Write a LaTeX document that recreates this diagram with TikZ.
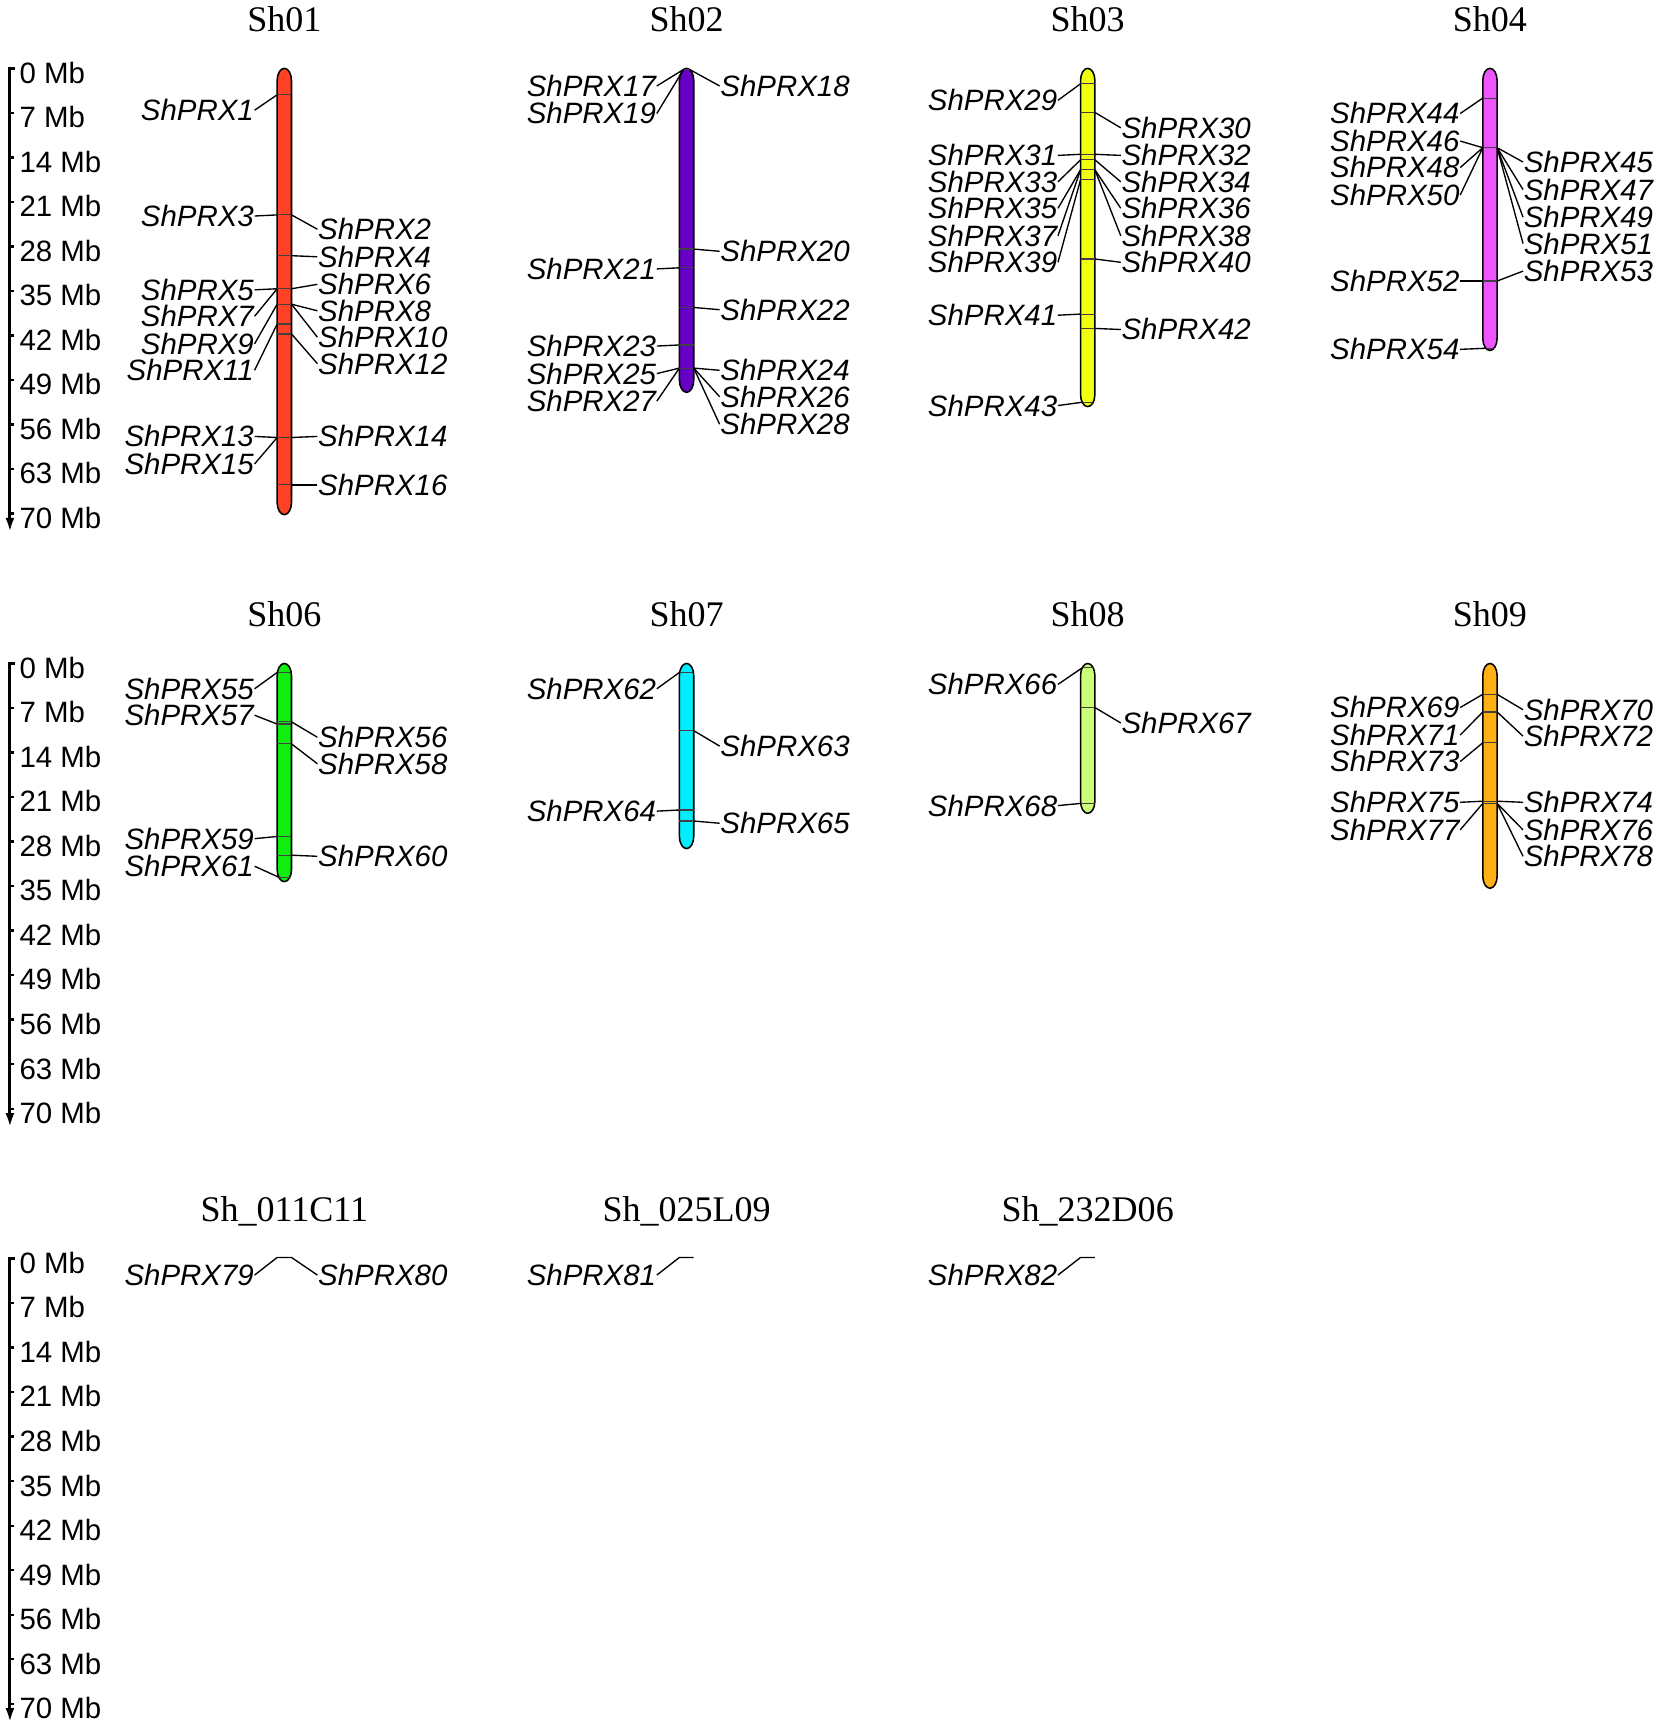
\documentclass[tikz,border=0pt]{standalone}
\usepackage{fontspec}
\setmainfont{Liberation Serif}
\setsansfont{Liberation Sans}
\usetikzlibrary{arrows.meta}

\definecolor{c01}{HTML}{FF4126}
\definecolor{c02}{HTML}{6600C4}
\definecolor{c03}{HTML}{EEFF10}
\definecolor{c04}{HTML}{EE55FF}
\definecolor{c06}{HTML}{10EE10}
\definecolor{c07}{HTML}{00EEFF}
\definecolor{c08}{HTML}{CCFF77}
\definecolor{c09}{HTML}{FFB014}

\tikzset{
  chrom/.style={draw=black, line width=0.4pt},
  genemark/.style={draw=black!75, line width=0.3pt},
  leader/.style={line width=0.35pt},
  genel/.style={font=\sffamily\itshape\fontsize{7.6pt}{7.6pt}\selectfont, inner sep=0pt, text height=5.4pt, text depth=0pt},
  mblabel/.style={font=\sffamily\fontsize{7.6pt}{7.6pt}\selectfont, inner sep=0pt, anchor=base west},
  chrtitle/.style={font=\fontsize{9.3pt}{9.3pt}\selectfont, inner sep=0pt, anchor=base},
  ruler/.style={line width=0.8pt},
  rtick/.style={line width=0.6pt},
}

\begin{document}
\begin{tikzpicture}[x=0.1mm, y=-0.1mm]
\useasboundingbox (0,0) rectangle (1500,1568);

% scale bars
\foreach \r/\T in {1/62, 2/602, 3/1142} {
  \coordinate (r\r a) at (13.5,\T);
  \coordinate (r\r b) at (9,\T);
  \coordinate (r\r c) at (9,\T+421);
  \draw[ruler, -{Latex[length=1.3mm,width=0.8mm]}] (r\r a) -- (r\r b) -- (r\r c);
  \foreach \k in {1,...,10}
    \draw[rtick] (9,\T+\k*40.4) -- ++(4,0);
  \foreach \k in {0,...,10} {
    \pgfmathtruncatemacro\mb{\k*7}
    \node[mblabel] (mb\r-\k) at (17,\T+\k*40.4+13.5) {\mb{} Mb};
  }
}

% Sh01
\def\chrx{258}\def\ctop{62}\def\cbot{467}
\node[chrtitle] (t01) at (\chrx,28.5) {Sh01};
\filldraw[chrom, fill=c01] (\chrx-6.5,\ctop+11) -- (\chrx-6.5,\cbot-11) arc[start angle=180,end angle=360,x radius=0.65mm,y radius=1.1mm] -- (\chrx+6.5,\ctop+11) arc[start angle=0,end angle=180,x radius=0.65mm,y radius=1.1mm] -- cycle;
\foreach \n/\t/\l in {1/86/100, 3/195/196, 5/262/263, 7/262/287, 9/276/312, 11/294/336, 13/397/396, 15/397/421} {
  \pgfmathsetmacro\dd{max(0,max(\ctop+11-\t,\t-\cbot+11))}
  \pgfmathsetmacro\hw{6.5*sqrt(max(0,1-(\dd/11)^2))}
  \coordinate (m\n) at (\chrx-\hw,\t);
  \draw[genemark] (m\n) -- ++(2*\hw,0);
  \node[genel, anchor=east] (g\n) at (\chrx-27,\l) {ShPRX\n};
  \draw[leader] (g\n.east) -- (m\n);
}
\foreach \n/\t/\l in {2/195/208, 4/232/233, 6/262/258, 8/276/282, 10/276/306, 12/303/330, 14/397/396, 16/440/440} {
  \pgfmathsetmacro\dd{max(0,max(\ctop+11-\t,\t-\cbot+11))}
  \pgfmathsetmacro\hw{6.5*sqrt(max(0,1-(\dd/11)^2))}
  \coordinate (m\n) at (\chrx+\hw,\t);
  \draw[genemark] (m\n) -- ++(-2*\hw,0);
  \node[genel, anchor=west] (g\n) at (\chrx+30,\l) {ShPRX\n};
  \draw[leader] (m\n) -- (g\n.west);
}

% Sh02
\def\chrx{623}\def\ctop{62}\def\cbot{356}
\node[chrtitle] (t02) at (\chrx,28.5) {Sh02};
\filldraw[chrom, fill=c02] (\chrx-6.5,\ctop+11) -- (\chrx-6.5,\cbot-11) arc[start angle=180,end angle=360,x radius=0.65mm,y radius=1.1mm] -- (\chrx+6.5,\ctop+11) arc[start angle=0,end angle=180,x radius=0.65mm,y radius=1.1mm] -- cycle;
\foreach \n/\t/\l in {17/63/78, 19/63/103, 21/243/244, 23/313/314, 25/334/339, 27/334/364} {
  \pgfmathsetmacro\dd{max(0,max(\ctop+11-\t,\t-\cbot+11))}
  \pgfmathsetmacro\hw{6.5*sqrt(max(0,1-(\dd/11)^2))}
  \coordinate (m\n) at (\chrx-\hw,\t);
  \draw[genemark] (m\n) -- ++(2*\hw,0);
  \node[genel, anchor=east] (g\n) at (\chrx-27,\l) {ShPRX\n};
  \draw[leader] (g\n.east) -- (m\n);
}
\foreach \n/\t/\l in {18/63/78, 20/226/228, 22/279/281, 24/334/336, 26/334/360, 28/334/385} {
  \pgfmathsetmacro\dd{max(0,max(\ctop+11-\t,\t-\cbot+11))}
  \pgfmathsetmacro\hw{6.5*sqrt(max(0,1-(\dd/11)^2))}
  \coordinate (m\n) at (\chrx+\hw,\t);
  \draw[genemark] (m\n) -- ++(-2*\hw,0);
  \node[genel, anchor=west] (g\n) at (\chrx+30,\l) {ShPRX\n};
  \draw[leader] (m\n) -- (g\n.west);
}

% Sh03
\def\chrx{987}\def\ctop{62}\def\cbot{369}
\node[chrtitle] (t03) at (\chrx,28.5) {Sh03};
\filldraw[chrom, fill=c03] (\chrx-6.5,\ctop+11) -- (\chrx-6.5,\cbot-11) arc[start angle=180,end angle=360,x radius=0.65mm,y radius=1.1mm] -- (\chrx+6.5,\ctop+11) arc[start angle=0,end angle=180,x radius=0.65mm,y radius=1.1mm] -- cycle;
\foreach \n/\t/\l in {29/76/91, 31/140/141, 33/145/165, 35/154/189, 37/154/214, 39/163/238, 41/285/286, 43/365/368} {
  \pgfmathsetmacro\dd{max(0,max(\ctop+11-\t,\t-\cbot+11))}
  \pgfmathsetmacro\hw{6.5*sqrt(max(0,1-(\dd/11)^2))}
  \coordinate (m\n) at (\chrx-\hw,\t);
  \draw[genemark] (m\n) -- ++(2*\hw,0);
  \node[genel, anchor=east] (g\n) at (\chrx-27,\l) {ShPRX\n};
  \draw[leader] (g\n.east) -- (m\n);
}
\foreach \n/\t/\l in {30/102/116, 32/140/141, 34/145/165, 36/154/189, 38/154/214, 40/235/238, 42/298/299} {
  \pgfmathsetmacro\dd{max(0,max(\ctop+11-\t,\t-\cbot+11))}
  \pgfmathsetmacro\hw{6.5*sqrt(max(0,1-(\dd/11)^2))}
  \coordinate (m\n) at (\chrx+\hw,\t);
  \draw[genemark] (m\n) -- ++(-2*\hw,0);
  \node[genel, anchor=west] (g\n) at (\chrx+30,\l) {ShPRX\n};
  \draw[leader] (m\n) -- (g\n.west);
}

% Sh04
\def\chrx{1352}\def\ctop{62}\def\cbot{318}
\node[chrtitle] (t04) at (\chrx,28.5) {Sh04};
\filldraw[chrom, fill=c04] (\chrx-6.5,\ctop+11) -- (\chrx-6.5,\cbot-11) arc[start angle=180,end angle=360,x radius=0.65mm,y radius=1.1mm] -- (\chrx+6.5,\ctop+11) arc[start angle=0,end angle=180,x radius=0.65mm,y radius=1.1mm] -- cycle;
\foreach \n/\t/\l in {44/89/103, 46/134/128, 48/134/152, 50/134/177, 52/255/255, 54/316/317} {
  \pgfmathsetmacro\dd{max(0,max(\ctop+11-\t,\t-\cbot+11))}
  \pgfmathsetmacro\hw{6.5*sqrt(max(0,1-(\dd/11)^2))}
  \coordinate (m\n) at (\chrx-\hw,\t);
  \draw[genemark] (m\n) -- ++(2*\hw,0);
  \node[genel, anchor=east] (g\n) at (\chrx-27,\l) {ShPRX\n};
  \draw[leader] (g\n.east) -- (m\n);
}
\foreach \n/\t/\l in {45/134/147, 47/134/172, 49/134/197, 51/134/221, 53/255/246} {
  \pgfmathsetmacro\dd{max(0,max(\ctop+11-\t,\t-\cbot+11))}
  \pgfmathsetmacro\hw{6.5*sqrt(max(0,1-(\dd/11)^2))}
  \coordinate (m\n) at (\chrx+\hw,\t);
  \draw[genemark] (m\n) -- ++(-2*\hw,0);
  \node[genel, anchor=west] (g\n) at (\chrx+30,\l) {ShPRX\n};
  \draw[leader] (m\n) -- (g\n.west);
}

% Sh06
\def\chrx{258}\def\ctop{602}\def\cbot{800}
\node[chrtitle] (t06) at (\chrx,568.5) {Sh06};
\filldraw[chrom, fill=c06] (\chrx-6.5,\ctop+11) -- (\chrx-6.5,\cbot-11) arc[start angle=180,end angle=360,x radius=0.65mm,y radius=1.1mm] -- (\chrx+6.5,\ctop+11) arc[start angle=0,end angle=180,x radius=0.65mm,y radius=1.1mm] -- cycle;
\foreach \n/\t/\l in {55/610/625, 57/657/649, 59/759/761, 61/796/786} {
  \pgfmathsetmacro\dd{max(0,max(\ctop+11-\t,\t-\cbot+11))}
  \pgfmathsetmacro\hw{6.5*sqrt(max(0,1-(\dd/11)^2))}
  \coordinate (m\n) at (\chrx-\hw,\t);
  \draw[genemark] (m\n) -- ++(2*\hw,0);
  \node[genel, anchor=east] (g\n) at (\chrx-27,\l) {ShPRX\n};
  \draw[leader] (g\n.east) -- (m\n);
}
\foreach \n/\t/\l in {56/655/669, 58/675/693, 60/776/777} {
  \pgfmathsetmacro\dd{max(0,max(\ctop+11-\t,\t-\cbot+11))}
  \pgfmathsetmacro\hw{6.5*sqrt(max(0,1-(\dd/11)^2))}
  \coordinate (m\n) at (\chrx+\hw,\t);
  \draw[genemark] (m\n) -- ++(-2*\hw,0);
  \node[genel, anchor=west] (g\n) at (\chrx+30,\l) {ShPRX\n};
  \draw[leader] (m\n) -- (g\n.west);
}

% Sh07
\def\chrx{623}\def\ctop{602}\def\cbot{770}
\node[chrtitle] (t07) at (\chrx,568.5) {Sh07};
\filldraw[chrom, fill=c07] (\chrx-6.5,\ctop+11) -- (\chrx-6.5,\cbot-11) arc[start angle=180,end angle=360,x radius=0.65mm,y radius=1.1mm] -- (\chrx+6.5,\ctop+11) arc[start angle=0,end angle=180,x radius=0.65mm,y radius=1.1mm] -- cycle;
\foreach \n/\t/\l in {62/610/625, 64/735/736} {
  \pgfmathsetmacro\dd{max(0,max(\ctop+11-\t,\t-\cbot+11))}
  \pgfmathsetmacro\hw{6.5*sqrt(max(0,1-(\dd/11)^2))}
  \coordinate (m\n) at (\chrx-\hw,\t);
  \draw[genemark] (m\n) -- ++(2*\hw,0);
  \node[genel, anchor=east] (g\n) at (\chrx-27,\l) {ShPRX\n};
  \draw[leader] (g\n.east) -- (m\n);
}
\foreach \n/\t/\l in {63/663/677, 65/745/747} {
  \pgfmathsetmacro\dd{max(0,max(\ctop+11-\t,\t-\cbot+11))}
  \pgfmathsetmacro\hw{6.5*sqrt(max(0,1-(\dd/11)^2))}
  \coordinate (m\n) at (\chrx+\hw,\t);
  \draw[genemark] (m\n) -- ++(-2*\hw,0);
  \node[genel, anchor=west] (g\n) at (\chrx+30,\l) {ShPRX\n};
  \draw[leader] (m\n) -- (g\n.west);
}

% Sh08
\def\chrx{987}\def\ctop{602}\def\cbot{738}
\node[chrtitle] (t08) at (\chrx,568.5) {Sh08};
\filldraw[chrom, fill=c08] (\chrx-6.5,\ctop+11) -- (\chrx-6.5,\cbot-11) arc[start angle=180,end angle=360,x radius=0.65mm,y radius=1.1mm] -- (\chrx+6.5,\ctop+11) arc[start angle=0,end angle=180,x radius=0.65mm,y radius=1.1mm] -- cycle;
\foreach \n/\t/\l in {66/606/621, 68/729/731} {
  \pgfmathsetmacro\dd{max(0,max(\ctop+11-\t,\t-\cbot+11))}
  \pgfmathsetmacro\hw{6.5*sqrt(max(0,1-(\dd/11)^2))}
  \coordinate (m\n) at (\chrx-\hw,\t);
  \draw[genemark] (m\n) -- ++(2*\hw,0);
  \node[genel, anchor=east] (g\n) at (\chrx-27,\l) {ShPRX\n};
  \draw[leader] (g\n.east) -- (m\n);
}
\foreach \n/\t/\l in {67/642/656} {
  \pgfmathsetmacro\dd{max(0,max(\ctop+11-\t,\t-\cbot+11))}
  \pgfmathsetmacro\hw{6.5*sqrt(max(0,1-(\dd/11)^2))}
  \coordinate (m\n) at (\chrx+\hw,\t);
  \draw[genemark] (m\n) -- ++(-2*\hw,0);
  \node[genel, anchor=west] (g\n) at (\chrx+30,\l) {ShPRX\n};
  \draw[leader] (m\n) -- (g\n.west);
}

% Sh09
\def\chrx{1352}\def\ctop{602}\def\cbot{806}
\node[chrtitle] (t09) at (\chrx,568.5) {Sh09};
\filldraw[chrom, fill=c09] (\chrx-6.5,\ctop+11) -- (\chrx-6.5,\cbot-11) arc[start angle=180,end angle=360,x radius=0.65mm,y radius=1.1mm] -- (\chrx+6.5,\ctop+11) arc[start angle=0,end angle=180,x radius=0.65mm,y radius=1.1mm] -- cycle;
\foreach \n/\t/\l in {69/630/642, 71/646/667, 73/674/691, 75/727/728, 77/729/753} {
  \pgfmathsetmacro\dd{max(0,max(\ctop+11-\t,\t-\cbot+11))}
  \pgfmathsetmacro\hw{6.5*sqrt(max(0,1-(\dd/11)^2))}
  \coordinate (m\n) at (\chrx-\hw,\t);
  \draw[genemark] (m\n) -- ++(2*\hw,0);
  \node[genel, anchor=east] (g\n) at (\chrx-27,\l) {ShPRX\n};
  \draw[leader] (g\n.east) -- (m\n);
}
\foreach \n/\t/\l in {70/630/644, 72/646/668, 74/727/728, 76/729/753, 78/729/777} {
  \pgfmathsetmacro\dd{max(0,max(\ctop+11-\t,\t-\cbot+11))}
  \pgfmathsetmacro\hw{6.5*sqrt(max(0,1-(\dd/11)^2))}
  \coordinate (m\n) at (\chrx+\hw,\t);
  \draw[genemark] (m\n) -- ++(-2*\hw,0);
  \node[genel, anchor=west] (g\n) at (\chrx+30,\l) {ShPRX\n};
  \draw[leader] (m\n) -- (g\n.west);
}

% scaffolds
\node[chrtitle] (t11) at (258,1108.5) {Sh\_011C11};
\node[chrtitle] (t12) at (623,1108.5) {Sh\_025L09};
\node[chrtitle] (t13) at (987,1108.5) {Sh\_232D06};
\coordinate (m79) at (251.5,1141);
\coordinate (m80) at (264.5,1141);
\coordinate (m81) at (616.5,1141);
\coordinate (m81b) at (629.5,1141);
\coordinate (m82) at (980.5,1141);
\coordinate (m82b) at (993.5,1141);
\node[genel, anchor=east] (g79) at (231,1157) {ShPRX79};
\node[genel, anchor=west] (g80) at (288,1157) {ShPRX80};
\node[genel, anchor=east] (g81) at (596,1157) {ShPRX81};
\node[genel, anchor=east] (g82) at (960,1157) {ShPRX82};
\draw[leader] (g79.east) -- (m79) -- (m80) -- (g80.west);
\draw[leader] (g81.east) -- (m81) -- (m81b);
\draw[leader] (g82.east) -- (m82) -- (m82b);
\end{tikzpicture}
\end{document}
